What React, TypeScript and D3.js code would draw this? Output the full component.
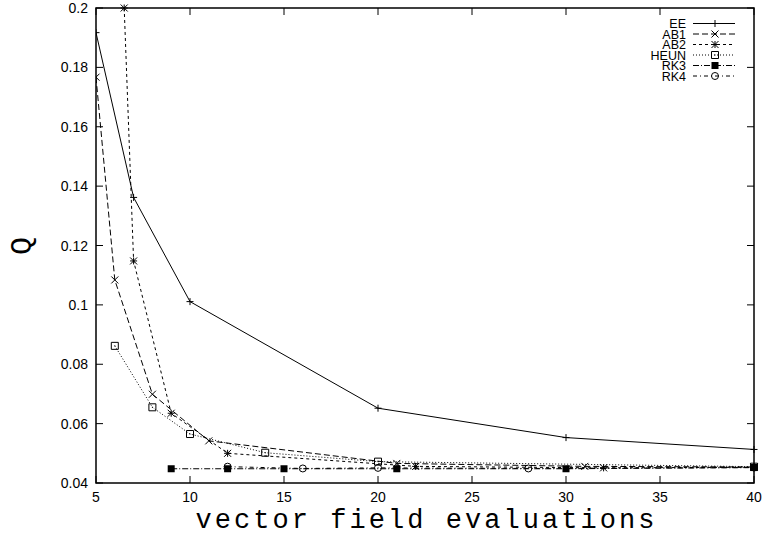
import { useEffect, useRef } from 'react';
import * as d3 from 'd3';

// evaluations vs Q for each integrator
const eeX = [5, 7, 10, 20, 30, 40];
const eeY = [0.1917, 0.1362, 0.1011, 0.0652, 0.0553, 0.0513];
const ab1X = [5, 6, 8, 11, 21, 31, 40];
const ab1Y = [0.1767, 0.1084, 0.0699, 0.0542, 0.0466, 0.0456, 0.0454];
const ab2X = [6.5, 7, 9, 12, 22, 32, 40];
const ab2Y = [0.2, 0.1148, 0.0635, 0.05, 0.0456, 0.0451, 0.0453];
const heunX = [6, 8, 10, 14, 20, 40];
const heunY = [0.0862, 0.0655, 0.0565, 0.0502, 0.0472, 0.0455];
const rk3X = [9, 12, 15, 21, 30, 40];
const rk3Y = [0.0448, 0.0448, 0.0448, 0.0448, 0.0448, 0.0452];
const rk4X = [12, 16, 20, 28, 40];
const rk4Y = [0.0455, 0.0449, 0.0451, 0.0449, 0.0452];

const xTicks = [5, 10, 15, 20, 25, 30, 35, 40];
const yTicks = [0.04, 0.06, 0.08, 0.1, 0.12, 0.14, 0.16, 0.18, 0.2];

type Mark = 'plus' | 'cross' | 'star' | 'box' | 'fbox' | 'circle';

const series: { name: string; xs: number[]; ys: number[]; dash: string; mark: Mark }[] = [
  { name: 'EE', xs: eeX, ys: eeY, dash: '', mark: 'plus' },
  { name: 'AB1', xs: ab1X, ys: ab1Y, dash: '6,3', mark: 'cross' },
  { name: 'AB2', xs: ab2X, ys: ab2Y, dash: '3,3', mark: 'star' },
  { name: 'HEUN', xs: heunX, ys: heunY, dash: '1,2', mark: 'box' },
  { name: 'RK3', xs: rk3X, ys: rk3Y, dash: '6,2,1,2', mark: 'fbox' },
  { name: 'RK4', xs: rk4X, ys: rk4Y, dash: '4,3,1,3', mark: 'circle' },
];

const W = 765;
const H = 536;
const L = 96, R = 754, T = 8, B = 483;

function drawMark(g: d3.Selection<SVGGElement, unknown, null, undefined>, kind: Mark, cx: number, cy: number) {
  const s = 3.5;
  const p = (d: string) => g.append('path').attr('d', d).attr('stroke', '#000').attr('stroke-width', 1).attr('fill', 'none');
  if (kind === 'plus') p(`M${cx - s},${cy}H${cx + s}M${cx},${cy - s}V${cy + s}`);
  if (kind === 'cross') p(`M${cx - s},${cy - s}L${cx + s},${cy + s}M${cx - s},${cy + s}L${cx + s},${cy - s}`);
  if (kind === 'star') p(`M${cx - s},${cy}H${cx + s}M${cx},${cy - s}V${cy + s}M${cx - s},${cy - s}L${cx + s},${cy + s}M${cx - s},${cy + s}L${cx + s},${cy - s}`);
  if (kind === 'box') {
    p(`M${cx - s},${cy - s}h${2 * s}v${2 * s}h${-2 * s}Z`);
    g.append('rect').attr('x', cx - 0.5).attr('y', cy - 0.5).attr('width', 1).attr('height', 1).attr('fill', '#000');
  }
  if (kind === 'fbox') g.append('rect').attr('x', cx - s).attr('y', cy - s).attr('width', 2 * s).attr('height', 2 * s).attr('fill', '#000');
  if (kind === 'circle') g.append('circle').attr('cx', cx).attr('cy', cy).attr('r', s).attr('stroke', '#000').attr('fill', 'none');
}

export default function App() {
  const svgRef = useRef<SVGSVGElement>(null);

  useEffect(() => {
    const svg = d3.select(svgRef.current);
    svg.selectAll('*').remove();

    const x = d3.scaleLinear().domain([5, 40]).range([L, R]);
    const y = d3.scaleLinear().domain([0.04, 0.2]).range([B, T]);
    const tick = 7;
    const font = 'Liberation Sans, Arial, sans-serif';
    const mono = 'Liberation Mono, Courier New, monospace';

    // ticks (mirrored on all sides)
    const ax = svg.append('g').attr('stroke', '#000').attr('stroke-width', 1);
    xTicks.forEach(v => {
      ax.append('line').attr('x1', x(v)).attr('x2', x(v)).attr('y1', B).attr('y2', B - tick);
      ax.append('line').attr('x1', x(v)).attr('x2', x(v)).attr('y1', T).attr('y2', T + tick);
    });
    yTicks.forEach(v => {
      ax.append('line').attr('x1', L).attr('x2', L + tick).attr('y1', y(v)).attr('y2', y(v));
      ax.append('line').attr('x1', R).attr('x2', R - tick).attr('y1', y(v)).attr('y2', y(v));
    });

    xTicks.forEach(v => {
      svg.append('text').attr('x', x(v)).attr('y', B + 19).attr('text-anchor', 'middle')
        .attr('font-family', font).attr('font-size', 14).text(String(v));
    });
    yTicks.forEach(v => {
      svg.append('text').attr('x', L - 8).attr('y', y(v) + 5).attr('text-anchor', 'end')
        .attr('font-family', font).attr('font-size', 14).text(String(v));
    });

    const clip = svg.append('clipPath').attr('id', 'plotclip');
    clip.append('rect').attr('x', L).attr('y', T - 5).attr('width', R - L + 5).attr('height', B - T + 5);

    const line = d3.line<[number, number]>().x(d => x(d[0])).y(d => y(d[1]));
    const plot = svg.append('g').attr('clip-path', 'url(#plotclip)');

    series.forEach(s => {
      const pts = s.xs.map((v, i) => [v, s.ys[i]] as [number, number]);
      plot.append('path').attr('d', line(pts)).attr('fill', 'none').attr('stroke', '#000')
        .attr('stroke-width', 1).attr('stroke-dasharray', s.dash || null);
      const mg = plot.append('g');
      pts.forEach(p => drawMark(mg, s.mark, x(p[0]), y(p[1])));
    });

    // legend
    const lg = svg.append('g');
    series.forEach((s, i) => {
      const ly = 23.5 + i * 10.5;
      lg.append('text').attr('x', 686).attr('y', ly + 4.5).attr('text-anchor', 'end')
        .attr('font-family', font).attr('font-size', 12.5).text(s.name);
      lg.append('line').attr('x1', 693).attr('x2', 735).attr('y1', ly).attr('y2', ly)
        .attr('stroke', '#000').attr('stroke-width', 1).attr('stroke-dasharray', s.dash || null);
      drawMark(lg, s.mark, 715, ly);
    });

    // border
    svg.append('rect').attr('x', L).attr('y', T).attr('width', R - L).attr('height', B - T)
      .attr('fill', 'none').attr('stroke', '#000').attr('stroke-width', 1.5);

    svg.append('text').attr('x', (L + R) / 2).attr('y', 528).attr('text-anchor', 'middle')
      .attr('font-family', mono).attr('font-size', 27)
      .attr('textLength', 459).attr('lengthAdjust', 'spacing')
      .text('vector field evaluations');
    svg.append('text').attr('transform', 'translate(31,246) rotate(-90)').attr('text-anchor', 'middle')
      .attr('font-family', mono).attr('font-size', 30)
      .text('Q');
  }, []);

  return (
    <svg ref={svgRef} width={W} height={H}
      style={{ position: 'absolute', left: 0, top: 0, display: 'block', background: '#fff' }} />
  );
}
